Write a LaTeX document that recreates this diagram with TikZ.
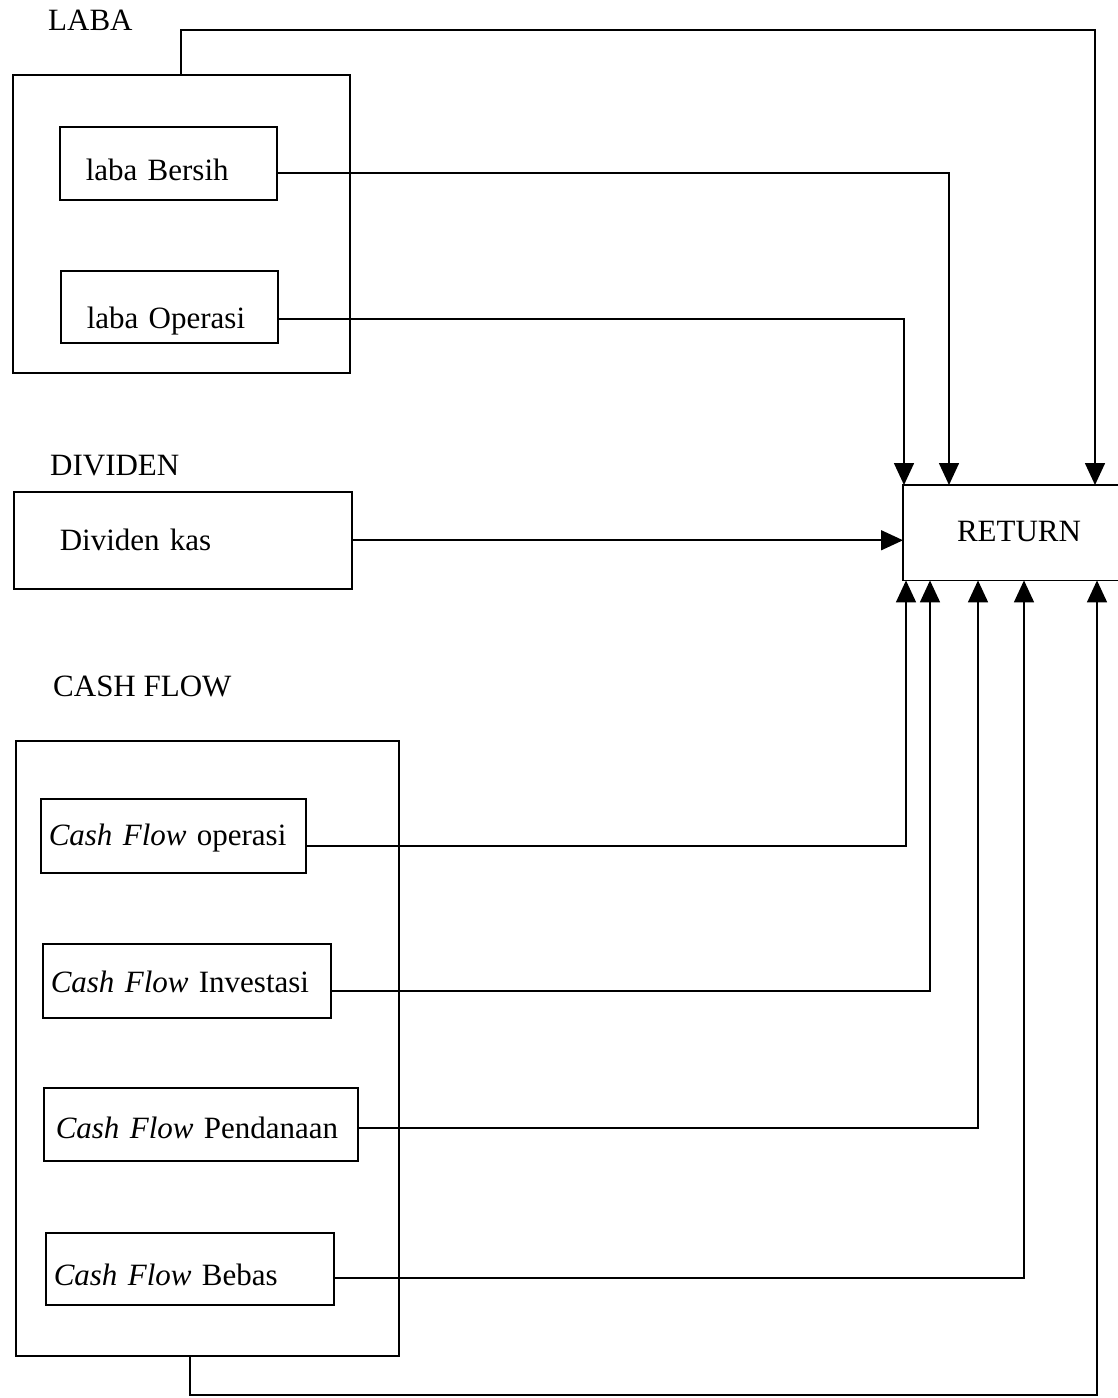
\documentclass[tikz,border=0pt]{standalone}
\usepackage{fontspec}
\setmainfont{Liberation Serif}
\usetikzlibrary{arrows.meta}
\begin{document}
\begin{tikzpicture}[x=1pt,y=-1pt,
  every node/.style={font=\fontsize{31}{36}\selectfont},
  box/.style={draw,line width=1.5pt,anchor=north west,align=left,inner ysep=0pt,text depth=0pt},
  outer/.style={draw,line width=1.5pt,anchor=north west,inner sep=0pt},
  lbl/.style={anchor=west,inner sep=0pt},
  conn/.style={line width=1.6pt},
  arr/.style={conn,-{Triangle[length=22pt,width=20pt]}}]
\useasboundingbox (0,0) rectangle (1117,1398);
% labels
\node[lbl] (tlaba) at (48,20) {LABA};
\node[lbl] (tdiv) at (50,466) {DIVIDEN};
\node[lbl] (tcf) at (53,686) {CASH FLOW};
% outer boxes
\node[outer,minimum width=337pt,minimum height=298pt] (laba) at (12,74) {};
\node[outer,minimum width=383pt,minimum height=615pt] (cf) at (15,740) {};
% inner boxes
\node[box,text width=165pt,inner xsep=26pt,minimum height=73pt,text height=35pt] (lb) at (59,126) {laba Bersih};
\node[box,text width=165pt,inner xsep=26pt,minimum height=72pt,text height=44pt] (lo) at (60,270) {laba Operasi};
\node[box,text width=246pt,inner xsep=46pt,minimum height=97pt,text height=21pt] (dk) at (13,491) {Dividen kas};
\node[box,text width=249pt,inner xsep=8pt,minimum height=74pt,text height=20pt] (cfo) at (40,798) {\textit{Cash Flow} operasi};
\node[box,text width=272pt,inner xsep=8pt,minimum height=74pt,text height=24pt] (cfi) at (42,943) {\textit{Cash Flow} Investasi};
\node[box,text width=290pt,inner xsep=12pt,minimum height=73pt,text height=29pt] (cfp) at (43,1087) {\textit{Cash Flow} Pendanaan};
\node[box,text width=272pt,inner xsep=8pt,minimum height=72pt,text height=34pt] (cfb) at (45,1232) {\textit{Cash Flow} Bebas};
% RETURN
\node[anchor=north west,inner sep=0pt,minimum width=232pt,minimum height=95pt] (ret) at (903,485) {};
\node (tret) at (1019,531) {RETURN};
\draw[line width=1.6pt] (ret.north east) -- (ret.north west) -- (ret.south west) -- (ret.south east);
% coordinates for routing
\coordinate (topc) at (640,30);
\coordinate (botc) at (640,1395);
% connectors to top
\draw[arr] (laba.north) |- (topc) -| ([xshift=192pt]ret.north west);
\draw[arr] ([yshift=-10pt]lb.east) -| ([xshift=46pt]ret.north west);
\draw[arr] ([yshift=-12pt]lo.east) -| ([xshift=1pt]ret.north west);
% dividen
\draw[arr] (dk.east) -- (dk.east -| ret.west);
% connectors to bottom
\draw[arr] ([yshift=-10pt]cfo.east) -| ([xshift=3pt]ret.south west);
\draw[arr] ([yshift=-10pt]cfi.east) -| ([xshift=27pt]ret.south west);
\draw[arr] ([yshift=-4pt]cfp.east) -| ([xshift=75pt]ret.south west);
\draw[arr] ([yshift=-9pt]cfb.east) -| ([xshift=121pt]ret.south west);
\draw[arr] ([xshift=175pt]cf.south west) |- (botc) -| ([xshift=194pt]ret.south west);
\end{tikzpicture}
\end{document}
